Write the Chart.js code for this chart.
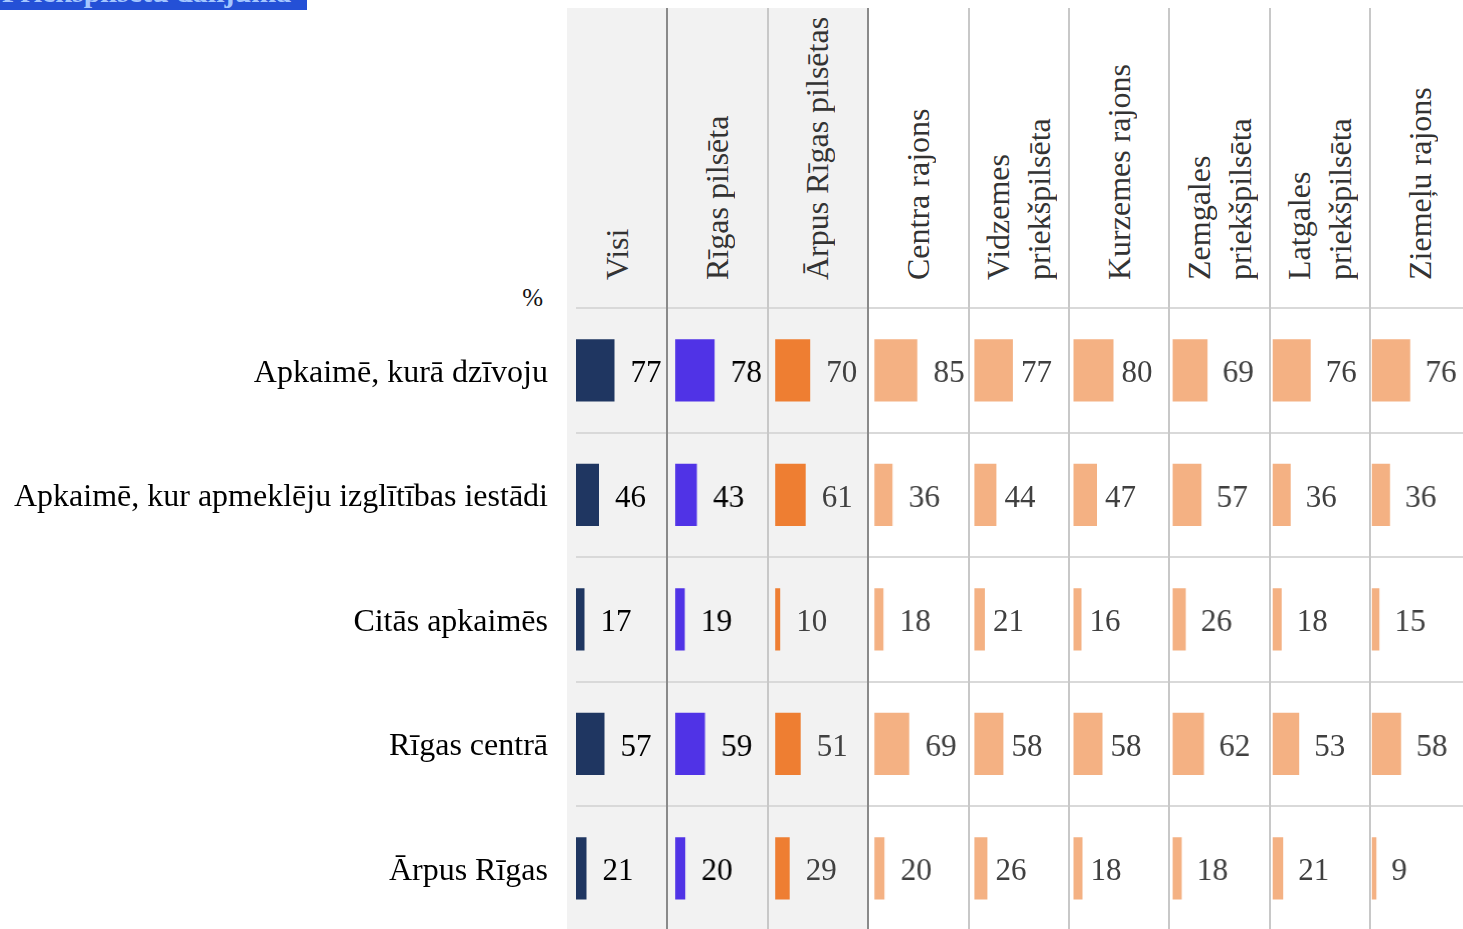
<!DOCTYPE html>
<html lang="lv">
<head>
<meta charset="UTF-8">
<title>Priekšpilsētu dalījumā</title>
<script src="https://cdn.jsdelivr.net/npm/chart.js"></script>
<style>
    html, body { margin: 0; padding: 0; background: #fff; }
    body { width: 1463px; height: 929px; overflow: hidden; position: relative; font-family: 'Liberation Serif', 'Times New Roman', serif; }
    .title { position: absolute; left: 0; top: 0; width: 307px; height: 10px; overflow: hidden; background: #2450d6; }
    .title span { position: absolute; left: 2px; top: -24px; font-weight: bold; font-size: 30px; line-height: 32px; color: #a4c6ff; white-space: nowrap; }
    .pct { position: absolute; left: 480px; width: 63px; top: 284px; text-align: right; font-size: 25px; line-height: 28px; color: #111; }
    .bg { position: absolute; top: 8px; height: 921px; background: #f2f2f2; z-index: 0; }
    .head { position: absolute; top: 8px; height: 272px; display: flex; justify-content: center; z-index: 1; }
    .head span { writing-mode: vertical-rl; transform: rotate(180deg); text-align: start; font-size: 32px; line-height: 41px; color: #333; white-space: nowrap; }
    .vline { position: absolute; top: 8px; height: 921px; width: 2px; z-index: 3; }
    .cell { position: absolute; top: 306px; height: 627px; z-index: 2; }
</style>
</head>
<body>
<div class="title"><span>Priekšpilsētu dalījumā</span></div>
<div class="pct">%</div>
<script>
    // Rows and columns of the table
    const rowLabels = ['Apkaimē, kurā dzīvoju', 'Apkaimē, kur apmeklēju izglītības iestādi', 'Citās apkaimēs', 'Rīgas centrā', 'Ārpus Rīgas'];
    const columnNames = [['Visi'], ['Rīgas pilsēta'], ['Ārpus Rīgas pilsētas'], ['Centra rajons'], ['Vidzemes', 'priekšpilsēta'], ['Kurzemes rajons'], ['Zemgales', 'priekšpilsēta'], ['Latgales', 'priekšpilsēta'], ['Ziemeļu rajons']];

    // Values, % (one array per column)
    const visi = [77, 46, 17, 57, 21];
    const rigasPilseta = [78, 43, 19, 59, 20];
    const arpusRigas = [70, 61, 10, 51, 29];
    const centraRajons = [85, 36, 18, 69, 20];
    const vidzemes = [77, 44, 21, 58, 26];
    const kurzemes = [80, 47, 16, 58, 18];
    const zemgales = [69, 57, 26, 62, 18];
    const latgales = [76, 36, 18, 53, 21];
    const ziemelu = [76, 36, 15, 58, 9];
    const columnValues = [visi, rigasPilseta, arpusRigas, centraRajons, vidzemes, kurzemes, zemgales, latgales, ziemelu];

    const barColors = ['#1f3661', '#5033e6', '#ee7e32', '#f4b183', '#f4b183', '#f4b183', '#f4b183', '#f4b183', '#f4b183'];
    const labelColors = ['#000', '#000', '#404040', '#404040', '#404040', '#404040', '#404040', '#404040', '#404040'];
    const labelGaps = [16, 16, 16, 16, 8, 8, 15, 15, 15];

    const colLeft = i => 567 + i * 100.4;
    const colWidth = 100.4;
    const pxPerUnit = 0.5;

    const valueLabels = {
        id: 'valueLabels',
        afterDatasetsDraw(chart, args, opts) {
            const ctx = chart.ctx;
            ctx.save();
            ctx.font = '31px "Liberation Serif", serif';
            ctx.fillStyle = opts.color;
            ctx.textAlign = 'left';
            ctx.textBaseline = 'alphabetic';
            chart.getDatasetMeta(0).data.forEach((bar, j) => {
                ctx.fillText(chart.data.datasets[0].data[j], bar.x + opts.gap, bar.y + 12);
            });
            ctx.restore();
        }
    };

    columnNames.forEach((name, i) => {
        const left = colLeft(i);
        if (i < 3) {
            const bg = document.createElement('div');
            bg.className = 'bg';
            bg.style.left = left + 'px';
            bg.style.width = colWidth + 'px';
            document.body.appendChild(bg);
        }
        const head = document.createElement('div');
        head.className = 'head';
        head.style.left = left + 'px';
        head.style.width = colWidth + 'px';
        const span = document.createElement('span');
        span.innerHTML = name.join('<br>');
        head.appendChild(span);
        document.body.appendChild(head);
        if (i > 0) {
            const line = document.createElement('div');
            line.className = 'vline';
            line.style.left = (left - 1) + 'px';
            line.style.background = (i === 1 || i === 3) ? '#8a8a8a' : '#c8c8c8';
            document.body.appendChild(line);
        }

        const cell = document.createElement('div');
        cell.className = 'cell';
        const first = i === 0;
        const cellLeft = first ? 0 : left;
        const cellWidth = first ? colLeft(1) : colWidth;
        cell.style.left = cellLeft + 'px';
        cell.style.width = cellWidth + 'px';
        const canvas = document.createElement('canvas');
        cell.appendChild(canvas);
        document.body.appendChild(cell);

        // where the bar starts inside the column
        const offset = first ? 0 : 9 - 0.9 * i;
        const xMin = -offset / pxPerUnit;
        const xMax = first ? (cellWidth - 576) / pxPerUnit : xMin + colWidth / pxPerUnit;

        new Chart(canvas, {
            type: 'bar',
            data: {
                labels: rowLabels,
                datasets: [{
                    data: columnValues[i],
                    backgroundColor: barColors[i],
                    barPercentage: 0.5,
                    categoryPercentage: 1
                }]
            },
            options: {
                indexAxis: 'y',
                responsive: true,
                maintainAspectRatio: false,
                animation: false,
                layout: { padding: { top: 2, bottom: 2.5, left: 0, right: 0 } },
                plugins: {
                    legend: { display: false },
                    tooltip: { enabled: false },
                    valueLabels: { color: labelColors[i], gap: labelGaps[i] }
                },
                scales: {
                    x: { display: false, min: xMin, max: xMax },
                    y: {
                        display: true,
                        border: { display: false },
                        grid: { color: '#d9d9d9', lineWidth: 2, drawTicks: false, offset: true },
                        ticks: {
                            display: first,
                            padding: 28,
                            labelOffset: 3,
                            color: '#000',
                            font: { family: 'Liberation Serif', size: 32 }
                        },
                        afterFit: scale => {
                            scale.width = first ? 576 : 0;
                            scale.paddingTop = 0;
                            scale.paddingBottom = 0;
                        }
                    }
                }
            },
            plugins: [valueLabels]
        });
    });
</script>
</body>
</html>
